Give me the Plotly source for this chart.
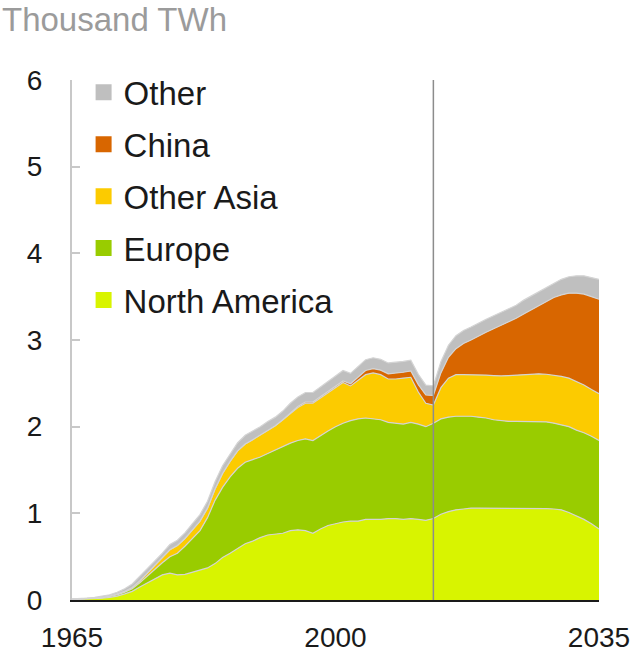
import plotly.graph_objects as go

years = list(range(1965, 2036))

north_america = [
    0.005, 0.007, 0.010, 0.015, 0.020, 0.030, 0.045, 0.070, 0.100, 0.150,
    0.200, 0.240, 0.290, 0.310, 0.290, 0.295, 0.320, 0.340, 0.370, 0.420,
    0.490, 0.540, 0.600, 0.650, 0.680, 0.720, 0.750, 0.760, 0.770, 0.800,
    0.810, 0.800, 0.770, 0.820, 0.860, 0.880, 0.900, 0.910, 0.910, 0.930,
    0.930, 0.930, 0.940, 0.940, 0.930, 0.940, 0.930, 0.920, 0.940, 0.990,
    1.020, 1.040, 1.050, 1.060, 1.060, 1.060, 1.060, 1.060, 1.060, 1.060,
    1.060, 1.060, 1.060, 1.055, 1.050, 1.040, 1.010, 0.970, 0.930, 0.880,
    0.820,
]
europe = [
    0.003, 0.003, 0.004, 0.005, 0.008, 0.010, 0.015, 0.020, 0.030, 0.050,
    0.080, 0.120, 0.140, 0.190, 0.250, 0.325, 0.390, 0.460, 0.580, 0.730,
    0.810, 0.880, 0.920, 0.940, 0.940, 0.930, 0.940, 0.970, 1.000, 1.010,
    1.030, 1.060, 1.070, 1.080, 1.090, 1.120, 1.140, 1.160, 1.180, 1.170,
    1.160, 1.150, 1.110, 1.100, 1.100, 1.110, 1.100, 1.080, 1.100, 1.100,
    1.090, 1.080, 1.070, 1.060, 1.050, 1.040, 1.020, 1.010, 1.000, 1.000,
    1.000, 1.000, 1.000, 1.000, 0.990, 0.980, 0.990, 0.990, 1.000, 1.010,
    1.020,
]
other_asia = [
    0.001, 0.001, 0.002, 0.003, 0.004, 0.005, 0.010, 0.010, 0.015, 0.020,
    0.030, 0.040, 0.050, 0.080, 0.090, 0.090, 0.100, 0.110, 0.110, 0.130,
    0.160, 0.180, 0.200, 0.210, 0.230, 0.250, 0.270, 0.280, 0.310, 0.340,
    0.380, 0.410, 0.430, 0.430, 0.440, 0.450, 0.470, 0.400, 0.440, 0.500,
    0.530, 0.520, 0.500, 0.510, 0.530, 0.520, 0.370, 0.270, 0.210, 0.360,
    0.450, 0.480, 0.480, 0.480, 0.490, 0.495, 0.510, 0.515, 0.530, 0.535,
    0.540, 0.545, 0.550, 0.550, 0.555, 0.560, 0.560, 0.560, 0.550, 0.540,
    0.540,
]
china = [
    0.0, 0.0, 0.0, 0.0, 0.0, 0.0, 0.0, 0.0, 0.0, 0.0,
    0.0, 0.0, 0.0, 0.0, 0.0, 0.0, 0.0, 0.0, 0.0, 0.0,
    0.0, 0.0, 0.0, 0.0, 0.0, 0.0, 0.0, 0.0, 0.0, 0.010,
    0.013, 0.014, 0.014, 0.014, 0.015, 0.016, 0.018, 0.025, 0.040, 0.048,
    0.050, 0.052, 0.060, 0.065, 0.068, 0.072, 0.085, 0.095, 0.110, 0.170,
    0.240, 0.300, 0.360, 0.400, 0.450, 0.495, 0.540, 0.585, 0.620, 0.655,
    0.700, 0.745, 0.780, 0.835, 0.895, 0.940, 0.980, 1.020, 1.050, 1.070,
    1.090,
]
other = [
    0.003, 0.004, 0.005, 0.007, 0.010, 0.015, 0.020, 0.030, 0.040, 0.050,
    0.050, 0.050, 0.060, 0.060, 0.060, 0.065, 0.070, 0.075, 0.080, 0.085,
    0.090, 0.090, 0.095, 0.100, 0.100, 0.100, 0.100, 0.100, 0.100, 0.110,
    0.110, 0.110, 0.110, 0.115, 0.120, 0.120, 0.120, 0.120, 0.120, 0.125,
    0.125, 0.125, 0.125, 0.125, 0.125, 0.125, 0.120, 0.115, 0.110, 0.130,
    0.140, 0.150, 0.150, 0.150, 0.150, 0.150, 0.150, 0.150, 0.150, 0.150,
    0.160, 0.160, 0.170, 0.170, 0.170, 0.180, 0.190, 0.200, 0.210, 0.220,
    0.230,
]

series_names = ["North America", "Europe", "Other Asia", "China", "Other"]
series_values = [north_america, europe, other_asia, china, other]
series_colors = ["#d8f400", "#99cc00", "#fccb00", "#d86600", "#bfbfbf"]

x_ticks = [1965, 2000, 2035]
y_ticks = [0, 1, 2, 3, 4, 5, 6]
split_year = 2013

FONT = "Liberation Sans, Arial, sans-serif"

fig = go.Figure()

for name, vals, col in zip(series_names, series_values, series_colors):
    fig.add_trace(go.Scatter(
        x=years, y=vals, name=name, mode="lines",
        stackgroup="one", fillcolor=col,
        line=dict(color="#d4d4d4", width=1.2, shape="linear"),
        showlegend=False, hoverinfo="x+y+name",
    ))

# legend entries (square markers), top to bottom
for name, col in reversed(list(zip(series_names, series_colors))):
    fig.add_trace(go.Scatter(
        x=[None], y=[None], mode="markers", name=name,
        marker=dict(symbol="square", size=16, color=col),
        legendgroup=name, showlegend=True,
    ))

fig.add_shape(type="line", xref="x", yref="paper",
              x0=split_year, x1=split_year, y0=0, y1=1,
              line=dict(color="#8c8c8c", width=1.5), layer="above")

fig.update_layout(
    width=642, height=660,
    margin=dict(l=72, r=43, t=80, b=60, autoexpand=False),
    paper_bgcolor="white", plot_bgcolor="white",
    font=dict(family=FONT, size=28, color="#1a1a1a"),
    showlegend=True,
    legend=dict(
        x=0.022, y=1.03, xanchor="left", yanchor="top",
        traceorder="grouped", tracegroupgap=6,
        font=dict(size=33, color="#1a1a1a"),
        bgcolor="rgba(0,0,0,0)", itemwidth=30,
    ),
    xaxis=dict(
        range=[1965, 2035], tickvals=x_ticks, ticktext=[str(v) for v in x_ticks],
        showgrid=False, zeroline=False, automargin=False,
        showline=True, linecolor="#1a1a1a", linewidth=2,
        ticks="", ticklabelstandoff=11,
        tickfont=dict(size=28, color="#1a1a1a"),
    ),
    yaxis=dict(
        range=[0, 6], tickvals=y_ticks, automargin=False,
        showgrid=False, zeroline=False,
        showline=True, linecolor="#c8c8c8", linewidth=2,
        ticks="inside", ticklen=8, tickwidth=2, tickcolor="#c8c8c8",
        ticklabelstandoff=22,
        tickfont=dict(size=28, color="#1a1a1a"),
    ),
    annotations=[dict(
        text="Thousand TWh", xref="paper", yref="paper",
        x=-72/527, y=1 + 60/520, xanchor="left", yanchor="middle",
        showarrow=False, font=dict(size=33, color="#9b9b9b"),
    )],
)

fig.write_html("out.html")
